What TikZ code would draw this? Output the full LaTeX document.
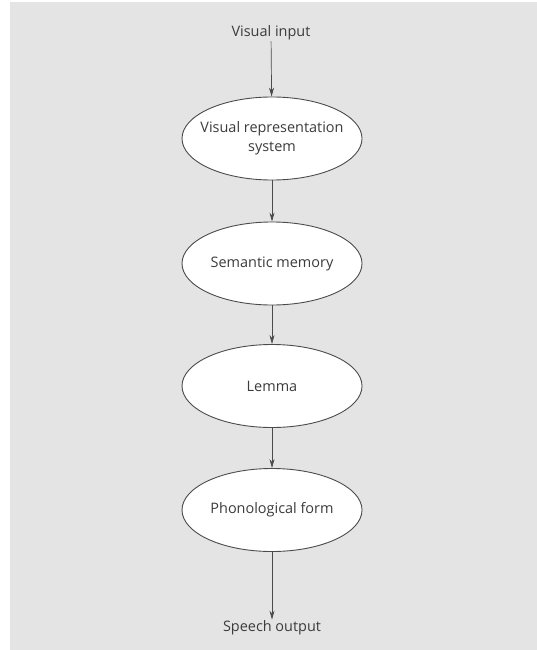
\documentclass[tikz,border=0pt]{standalone}
\usepackage{fontspec}
\setmainfont{Open Sans}
\usetikzlibrary{shapes.geometric,arrows.meta}
\definecolor{bggray}{RGB}{228,228,228}
\definecolor{ink}{RGB}{75,75,75}
\definecolor{txt}{RGB}{60,60,60}
\tikzset{
  stage/.style={ellipse, draw=ink, line width=0.9pt, fill=white, text=txt,
    minimum width=180bp, minimum height=83bp, inner sep=0pt, align=center,
    font=\fontsize{14.5}{19}\selectfont},
  term/.style={text=txt, font=\fontsize{14.5}{17}\selectfont, inner sep=1pt},
  flow/.style={draw=ink, line width=0.7pt, -{Stealth[length=9pt,width=5pt]}}
}
\begin{document}
\begin{tikzpicture}[x=1bp,y=-1bp]
\useasboundingbox (0,0) rectangle (537,650);
\fill[bggray] (10,2) rectangle (537,650);
\node[term] (in) at (271,33) {Visual input};
\node[stage, inner xsep=-12bp, inner ysep=-6bp] (vrs) at (272,138.5) {Visual representation\\system};
\node[stage] (sem) at (272,263.5) {Semantic memory};
\node[stage] (lem) at (272,386) {Lemma};
\node[stage] (pho) at (272,510) {Phonological form};
\node[term] (out) at (272,628) {Speech output};
\draw[flow] (in) -- (vrs);
\draw[flow] (vrs) -- (sem);
\draw[flow] (sem) -- (lem);
\draw[flow] (lem) -- (pho);
\draw[flow] (pho) -- (out);
\end{tikzpicture}
\end{document}
